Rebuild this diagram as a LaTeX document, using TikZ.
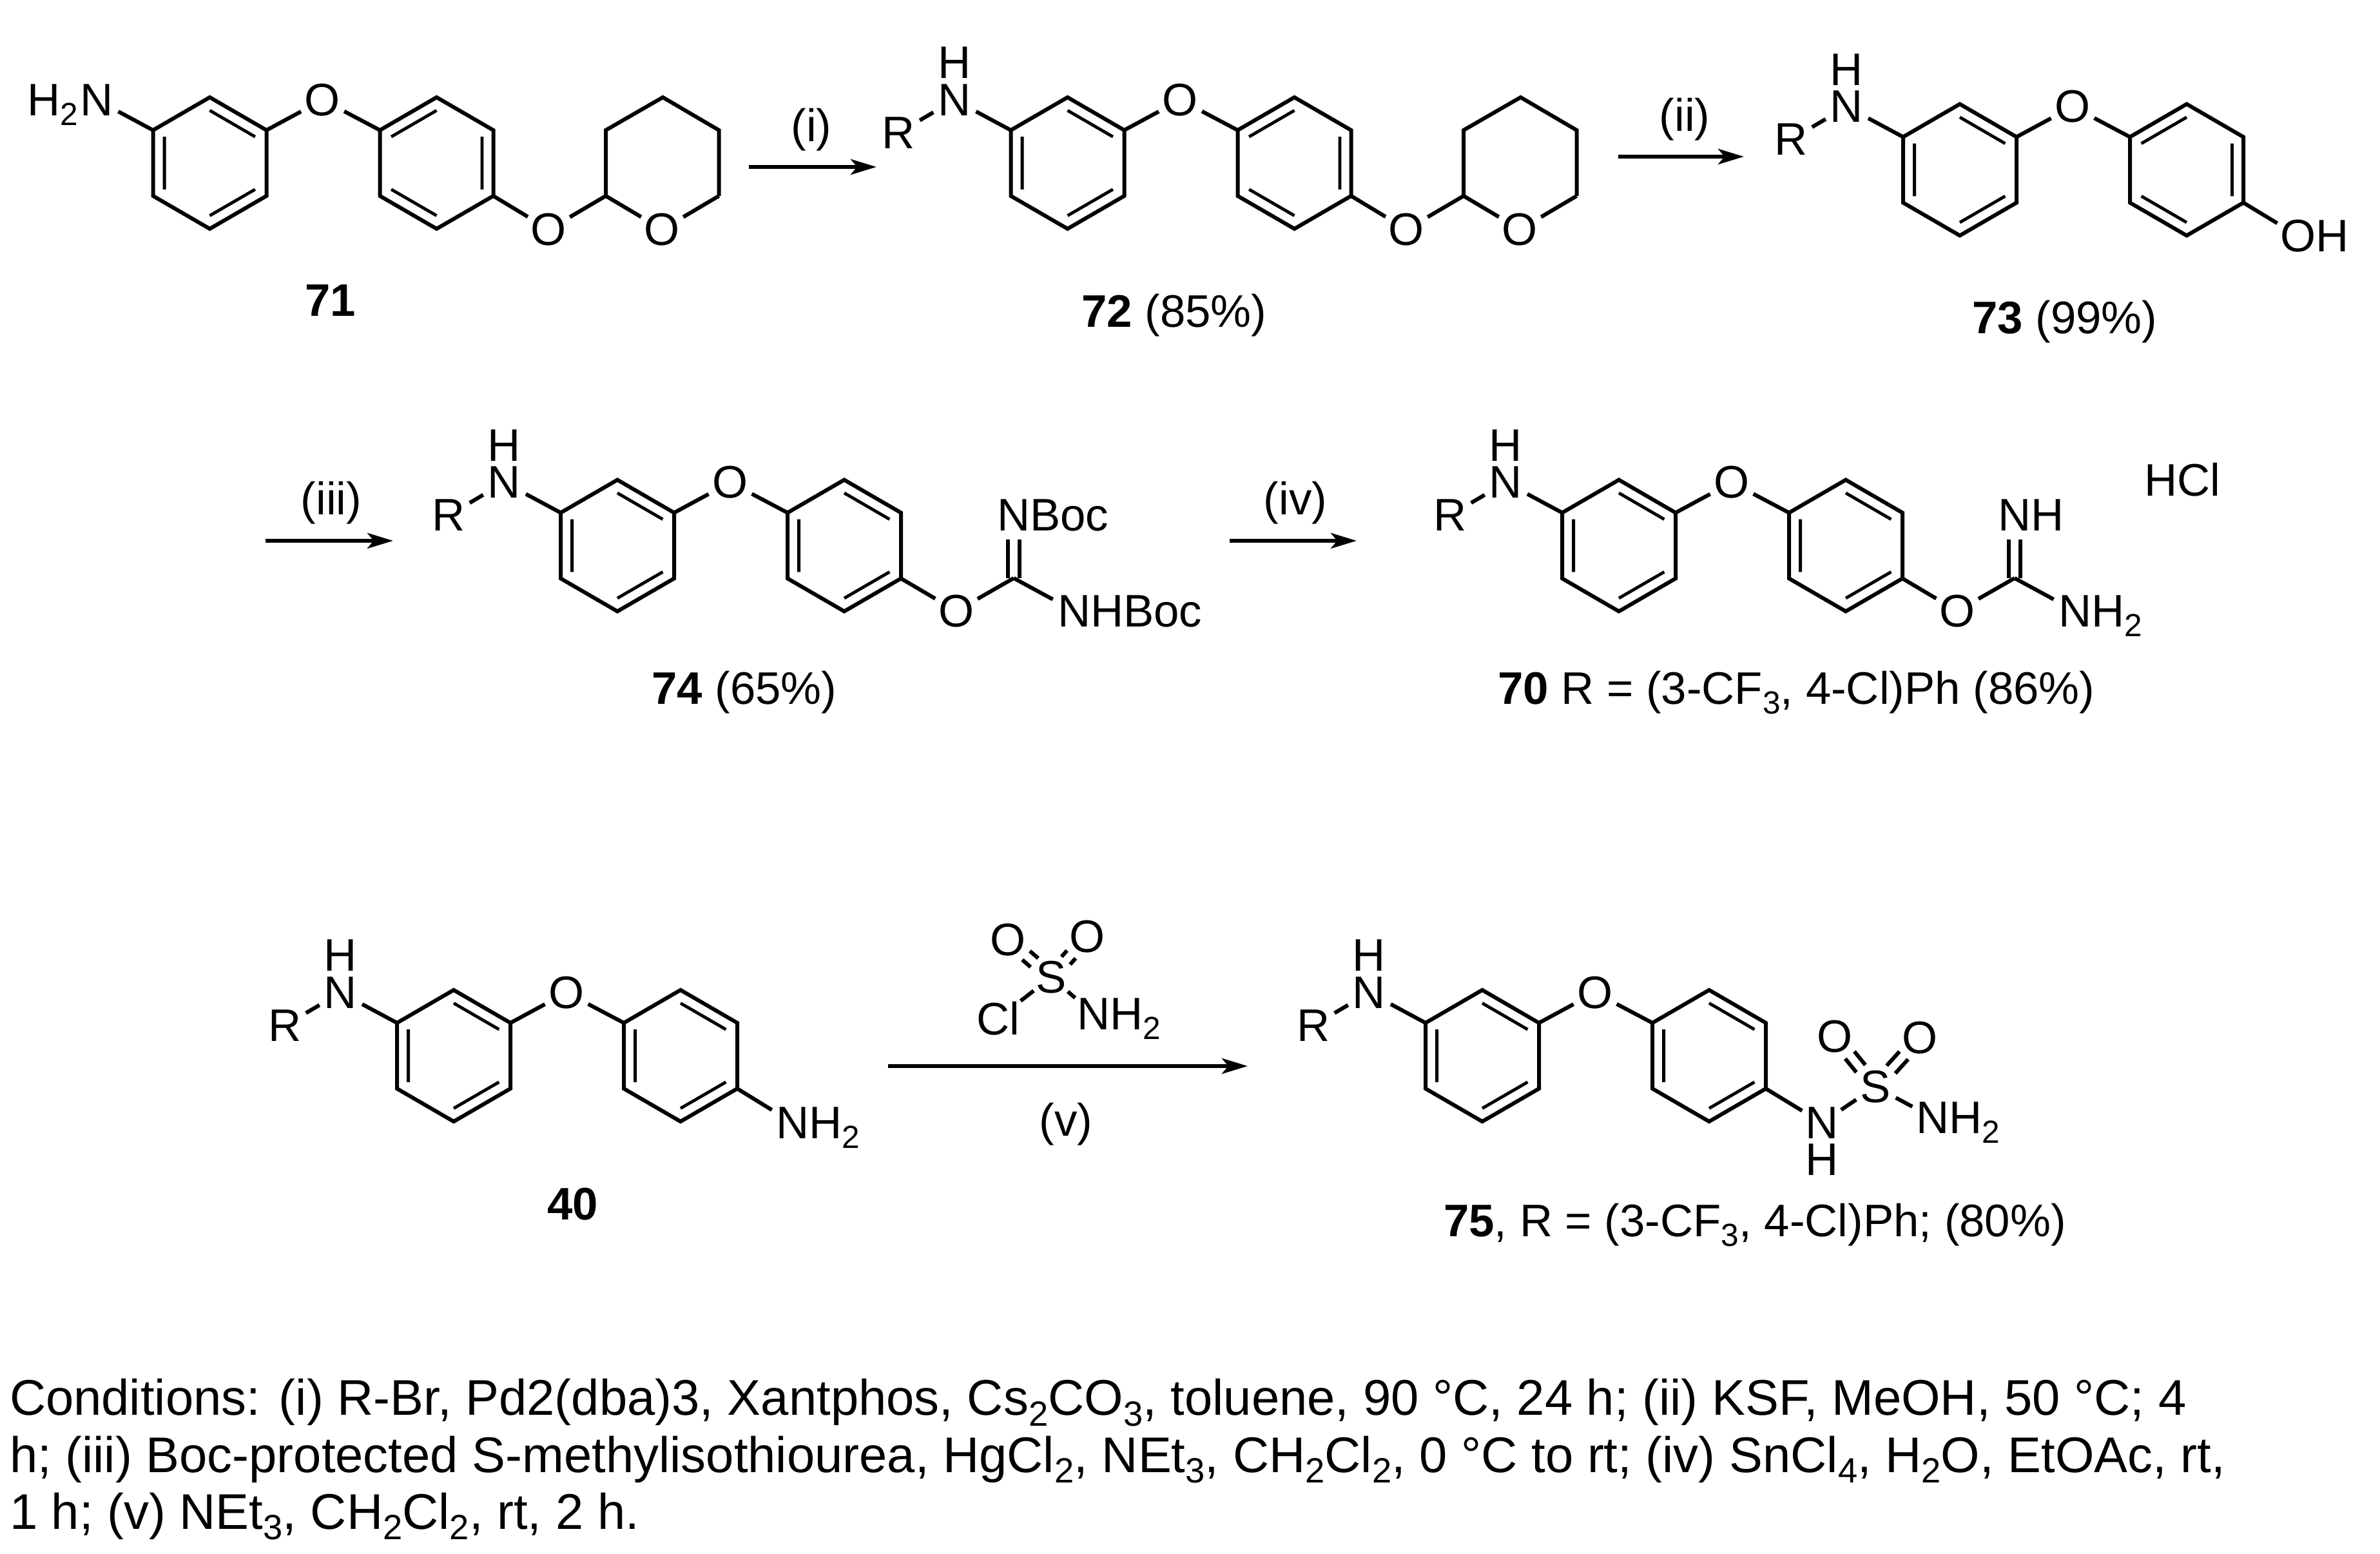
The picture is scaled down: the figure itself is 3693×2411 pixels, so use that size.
\documentclass[tikz,border=0pt]{standalone}
\usepackage{fontspec}
\setmainfont{Liberation Sans}
\usetikzlibrary{arrows.meta}
\newcommand{\chsub}[1]{\raisebox{-0.21em}{\fontsize{12.4bp}{14bp}\selectfont #1}}
\newcommand{\csub}[1]{\raisebox{-0.21em}{\fontsize{13.6bp}{15bp}\selectfont #1}}
\tikzset{
  bond/.style={line width=1.5bp,line cap=butt,line join=miter},
  innerbond/.style={line width=1.2bp,line cap=butt},
  rxn/.style={line width=1.5bp,-{Stealth[length=10bp,width=6bp,inset=2.5bp]}},
  atom/.style={circle,inner sep=0pt,outer sep=0pt,minimum size=19bp,font=\fontsize{17.7bp}{20bp}\selectfont},
  satom/.style={atom,minimum size=16bp},
  clatom/.style={atom,minimum size=22bp},
  lab/.style={inner sep=0pt,outer sep=0pt,anchor=base west,font=\fontsize{17.7bp}{20bp}\selectfont},
  cond/.style={inner sep=0pt,outer sep=0pt,anchor=base west,font=\fontsize{19.45bp}{22bp}\selectfont},
  mid/.style={inner sep=0pt,outer sep=0pt,font=\fontsize{17.7bp}{20bp}\selectfont}
}
% ring: name, cx, cy, pattern of the inner double bonds
\newcommand{\benzring}[4]{%
  \coordinate (#11) at ({#2},{#3-102});
  \coordinate (#12) at ({#2+88},{#3-51});
  \coordinate (#13) at ({#2+88},{#3+51});
  \coordinate (#14) at ({#2},{#3+102});
  \coordinate (#15) at ({#2-88},{#3+51});
  \coordinate (#16) at ({#2-88},{#3-51});
  \coordinate (#1i1) at ({#2},{#3-81.6});
  \coordinate (#1i2) at ({#2+70.4},{#3-40.8});
  \coordinate (#1i3) at ({#2+70.4},{#3+40.8});
  \coordinate (#1i4) at ({#2},{#3+81.6});
  \coordinate (#1i5) at ({#2-70.4},{#3+40.8});
  \coordinate (#1i6) at ({#2-70.4},{#3-40.8});
  \draw[bond] (#11) -- (#12) -- (#13) -- (#14) -- (#15) -- (#16) -- cycle;
  \if#4A
    \draw[innerbond] (#1i1) -- (#1i2) (#1i3) -- (#1i4) (#1i5) -- (#1i6);
  \else
    \draw[innerbond] (#1i1) -- (#1i6) (#1i2) -- (#1i3) (#1i4) -- (#1i5);
  \fi
}
% diaryl ether: prefix, x, y of ring A, pattern of ring B
\newcommand{\diaryl}[4]{%
  \benzring{#1a}{#2}{#3}{A}
  \benzring{#1b}{#2+352}{#3}{#4}
  \node[atom] (#1O) at ({#2+175},{#3-98}) {O};
  \draw[bond] (#1a2) -- (#1O);
  \draw[bond] (#1O) -- (#1b6);
}
% secondary amine R-NH on ring A
\newcommand{\amine}[3]{%
  \node[atom] (#1N) at ({#2-175.5},{#3-98}) {N};
  \node[mid] (#1H) at ({#2-175.5},{#3-155.5}) {H};
  \node[atom] (#1R) at ({#2-262},{#3-47}) {R};
  \draw[bond] (#1R) -- (#1N);
  \draw[bond] (#1N) -- (#1a6);
}
% tetrahydropyranyl ether
\newcommand{\thp}[3]{%
  \coordinate (#1c2) at ({#2+614.5},{#3+51});
  \coordinate (#1c3) at ({#2+614.5},{#3-51});
  \coordinate (#1c4) at ({#2+703},{#3-102});
  \coordinate (#1c5) at ({#2+790},{#3-51});
  \coordinate (#1c6) at ({#2+790},{#3+51});
  \node[atom] (#1rO) at ({#2+702},{#3+103}) {O};
  \node[atom] (#1lO) at ({#2+526},{#3+103}) {O};
  \draw[bond] (#1c2) -- (#1c3) -- (#1c4) -- (#1c5) -- (#1c6);
  \draw[bond] (#1c6) -- (#1rO);
  \draw[bond] (#1c2) -- (#1rO);
  \draw[bond] (#1c2) -- (#1lO);
  \draw[bond] (#1b3) -- (#1lO);
}
\begin{document}
\begin{tikzpicture}[x=0.25bp,y=-0.25bp]
\useasboundingbox (0,0) rectangle (3693,2411);

% 71
\diaryl{m}{325.5}{253}{B}
\node[atom] (mN) at (150,155) {N};
\node[lab] (mH) at (42,180) {H\chsub{2}};
\draw[bond] (mN) -- (ma6);
\thp{m}{325.5}{253}
\node[lab] (l71) at (473,491) {\bfseries 71};

% arrow i
\coordinate (a1s) at (1162,259);
\coordinate (a1e) at (1360,259);
\draw[rxn] (a1s) -- (a1e);
\node[mid] (t1) at (1259,201) {(i)};

% 72
\diaryl{n}{1656.5}{253}{B}
\amine{n}{1656.5}{253}
\thp{n}{1656.5}{253}
\node[lab] (l72) at (1678,508) {\textbf{72} (85\%)};

% arrow ii
\coordinate (a2s) at (2511,243);
\coordinate (a2e) at (2706,243);
\draw[rxn] (a2s) -- (a2e);
\node[mid] (t2) at (2614,185) {(ii)};

% 73
\diaryl{p}{3041}{263.5}{B}
\amine{p}{3041}{263.5}
\node[atom] (pOH) at (3566,366) {O};
\node[lab] (pOHh) at (3593,391) {H};
\draw[bond] (pb3) -- (pOH);
\node[lab] (l73) at (3060,518) {\textbf{73} (99\%)};

% arrow iii
\coordinate (a3s) at (412,839);
\coordinate (a3e) at (610,839);
\draw[rxn] (a3s) -- (a3e);
\node[mid] (t3) at (514,780) {(iii)};

% 74
\diaryl{q}{958}{846.5}{A}
\amine{q}{958}{846.5}
\node[atom] (qgO) at (1484,948) {O};
\coordinate (qgC) at (1573,897);
\node[atom] (qgN) at (1573,799) {N};
\node[lab] (qgB) at (1598,824) {Boc};
\node[atom] (qgN2) at (1667,948) {N};
\node[lab] (qgB2) at (1692,973) {HBoc};
\draw[bond] (qb3) -- (qgO);
\draw[bond] (qgO) -- (qgC);
\draw[bond] (qgC) -- (qgN2);
\draw[bond,transform canvas={xshift=-2.25bp}] (qgC) -- (qgN);
\draw[bond,transform canvas={xshift=2.25bp}] (qgC) -- (qgN);
\node[lab] (l74) at (1011,1093) {\textbf{74} (65\%)};

% arrow iv
\coordinate (a4s) at (1908,839);
\coordinate (a4e) at (2105,839);
\draw[rxn] (a4s) -- (a4e);
\node[mid] (t4) at (2010,780) {(iv)};

% 70
\diaryl{r}{2512}{846.5}{A}
\amine{r}{2512}{846.5}
\node[atom] (rgO) at (3037,948) {O};
\coordinate (rgC) at (3126,897);
\node[atom] (rgN) at (3126,799) {N};
\node[lab] (rgH) at (3151,824) {H};
\node[atom] (rgN2) at (3220,948) {N};
\node[lab] (rgH2) at (3245,973) {H\chsub{2}};
\draw[bond] (rb3) -- (rgO);
\draw[bond] (rgO) -- (rgC);
\draw[bond] (rgC) -- (rgN2);
\draw[bond,transform canvas={xshift=-2.25bp}] (rgC) -- (rgN);
\draw[bond,transform canvas={xshift=2.25bp}] (rgC) -- (rgN);
\node[lab] (hcl) at (3327,770) {HCl};
\node[lab] (l70) at (2324,1093) {\textbf{70} R = (3-CF\chsub{3}, 4-Cl)Ph (86\%)};

% 40
\diaryl{s}{704}{1638}{A}
\amine{s}{704}{1638}
\node[atom] (sN2) at (1230,1742) {N};
\node[lab] (sH2) at (1255,1767) {H\chsub{2}};
\draw[bond] (sb3) -- (sN2);
\node[lab] (l40) at (849,1893) {\bfseries 40};

% reagent
\node[satom] (gS) at (1631,1516) {S};
\node[satom] (gOl) at (1564,1458) {O};
\node[satom] (gOr) at (1687,1453) {O};
\node[clatom] (gCl) at (1549,1580) {Cl};
\node[atom] (gN) at (1697,1573) {N};
\node[lab] (gH) at (1722,1598) {H\chsub{2}};
\draw[bond] (gS) -- (gCl);
\draw[bond] (gS) -- (gN);
\draw[bond,transform canvas={xshift=1.47bp,yshift=1.7bp}] (gS) -- (gOl);
\draw[bond,transform canvas={xshift=-1.47bp,yshift=-1.7bp}] (gS) -- (gOl);
\draw[bond,transform canvas={xshift=1.67bp,yshift=-1.5bp}] (gS) -- (gOr);
\draw[bond,transform canvas={xshift=-1.67bp,yshift=1.5bp}] (gS) -- (gOr);

% arrow v
\coordinate (a5s) at (1378,1654);
\coordinate (a5e) at (1936,1654);
\draw[rxn] (a5s) -- (a5e);
\node[mid] (t5) at (1654,1744) {(v)};

% 75
\diaryl{u}{2300}{1638}{A}
\amine{u}{2300}{1638}
\node[atom,minimum size=18bp] (uS) at (2910,1686) {S};
\node[atom,minimum size=18bp] (uOl) at (2847,1608) {O};
\node[atom,minimum size=18bp] (uOr) at (2979,1610) {O};
\node[atom,minimum size=18bp] (uN) at (2827,1742) {N};
\node[mid] (uNH) at (2827,1799) {H};
\node[atom,minimum size=18bp] (uN2) at (2999,1734) {N};
\node[lab] (uH2) at (3024,1759) {H\chsub{2}};
\draw[bond] (ub3) -- (uN);
\draw[bond] (uN) -- (uS);
\draw[bond] (uS) -- (uN2);
\draw[bond,transform canvas={xshift=1.75bp,yshift=1.43bp}] (uS) -- (uOl);
\draw[bond,transform canvas={xshift=-1.75bp,yshift=-1.43bp}] (uS) -- (uOl);
\draw[bond,transform canvas={xshift=1.67bp,yshift=-1.5bp}] (uS) -- (uOr);
\draw[bond,transform canvas={xshift=-1.67bp,yshift=1.5bp}] (uS) -- (uOr);
\node[lab] (l75) at (2240,1919) {\textbf{75}, R = (3-CF\chsub{3}, 4-Cl)Ph; (80\%)};

% conditions
\node[cond] (c1) at (15,2196) {Conditions: (i) R-Br, Pd2(dba)3, Xantphos, Cs\csub{2}CO\csub{3}, toluene, 90 °C, 24 h; (ii) KSF, MeOH, 50 °C; 4};
\node[cond] (c2) at (15,2284) {h; (iii) Boc-protected S-methylisothiourea, HgCl\csub{2}, NEt\csub{3}, CH\csub{2}Cl\csub{2}, 0 °C to rt; (iv) SnCl\csub{4}, H\csub{2}O, EtOAc, rt,};
\node[cond] (c3) at (15,2372) {1 h; (v) NEt\csub{3}, CH\csub{2}Cl\csub{2}, rt, 2 h.};
\end{tikzpicture}
\end{document}
